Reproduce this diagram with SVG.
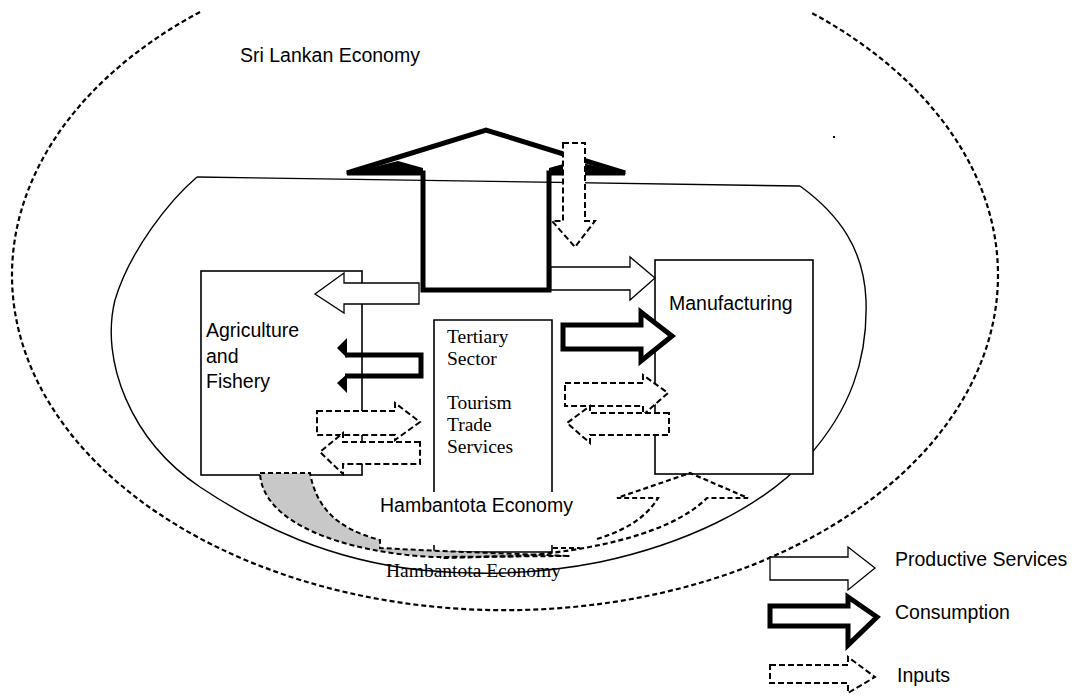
<svg xmlns="http://www.w3.org/2000/svg" width="1075" height="696" viewBox="0 0 1075 696">
<style>
.sans{font-family:"Liberation Sans",Arial,sans-serif;font-size:19.5px;fill:#000}
.serif{font-family:"Liberation Serif","Times New Roman",serif;font-size:19.5px;fill:#000}
.thin{fill:none;stroke:#000;stroke-width:1.4}
.box{fill:#fff;stroke:#000;stroke-width:1.6}
.prod{fill:#fff;stroke:#000;stroke-width:1.3;stroke-linejoin:miter}
.cons{fill:#fff;stroke:#000;stroke-width:5;stroke-linejoin:miter}
.inp{fill:#fff;stroke:#000;stroke-width:2;stroke-dasharray:6 3}
.dl{fill:none;stroke:#000;stroke-width:2.2;stroke-dasharray:5 3}
</style>
<rect width="1075" height="696" fill="#fff"/>
<g id="sri-lankan-economy">
<path class="dl" d="M200,12 A493,335 0 1 0 810,12"/>
<text class="sans" x="240" y="62">Sri Lankan Economy</text>
</g>
<g id="hambantota-economy">
<path class="thin" d="M197,177 C170,200 130,250 115,300 C100,360 130,440 200,487 C260,527 330,560 420,570 C480,576 540,574 600,562 C680,545 760,510 808,457 C850,410 868,360 866,300 C864,250 840,215 800,186"/>
<path class="thin" d="M197,177 L800,186"/>
<rect x="833" y="136" width="2" height="2" fill="#000"/>
<text class="serif" x="386" y="577">Hambantota Economy</text>
</g>
<g id="agriculture">
<rect class="box" x="201" y="271" width="161" height="204"/>
<text class="sans" x="206" y="337">Agriculture</text>
<text class="sans" x="206" y="363">and</text>
<text class="sans" x="206" y="388">Fishery</text>
</g>
<g id="tertiary">
<path d="M434,492 V320 H552 V492" fill="#fff" stroke="#000" stroke-width="1.6"/>
<path d="M434,545 V552 H552 V545" fill="none" stroke="#000" stroke-width="1.6"/>
<text class="serif" x="447" y="343">Tertiary</text>
<text class="serif" x="447" y="365">Sector</text>
<text class="serif" x="447" y="409">Tourism</text>
<text class="serif" x="447" y="431">Trade</text>
<text class="serif" x="447" y="453">Services</text>
<text class="sans" x="380" y="512">Hambantota Economy</text>
</g>
<g id="manufacturing">
<rect class="box" x="655" y="260" width="158" height="214"/>
<text class="sans" x="669" y="310">Manufacturing</text>
</g>
<g id="connectors">
<polygon points="347,173 486,130 625,173 549,173 549,290 423,290 423,173" fill="none" stroke="#000" stroke-width="5" stroke-linejoin="miter"/>
<polygon points="345,174 398,161 423,168 423,175" fill="#000"/>
<polygon points="627,174 574,161 549,168 549,175" fill="#000"/>
<polygon class="inp" points="563,143 585,143 585,221 595,221 575,247 552,221 563,221"/>
<polygon class="prod" points="419,283 344,283 344,273 315,294 344,313 344,304 419,304"/>
<polygon class="prod" points="551,267 630,267 630,257 655,278 630,300 630,290 551,290"/>
<path d="M345,355 H421 V376 H345" fill="none" stroke="#000" stroke-width="5"/>
<polygon points="337,348 347,338 347,358" fill="#000"/>
<polygon points="337,383 347,374 347,393" fill="#000"/>
<polygon class="cons" points="563,325 641,325 641,312 672,336 641,361 641,349 563,349"/>
<polygon class="inp" points="317,411 395,411 395,403 420,422 395,440 395,435 317,435"/>
<polygon class="inp" points="420,442 343,442 343,433 320,452 343,474 343,464 420,464"/>
<polygon class="inp" points="565,383 643,383 643,375 668,393 643,415 643,406 565,406"/>
<polygon class="inp" points="669,413 590,413 590,406 567,423 590,443 590,435 669,435"/>
<path d="M260,473 L310,473 C316,505 334,528 380,540 L380,548 L440,551 L570,556 L433,557 C340,552 262,522 260,473 Z" fill="#c8c8c8" stroke="#000" stroke-width="2" stroke-dasharray="5 3"/>
<path class="dl" d="M597,539 C620,532 645,520 658,498 H617 L690,473 L748,498 H707 C680,525 620,548 520,556 L440,558"/>
<path class="dl" d="M553,548 H580"/>
</g>
<g id="legend">
<polygon class="prod" points="770,557 848,557 848,547 875,568 848,590 848,580 770,580"/>
<text class="sans" x="895" y="566">Productive Services</text>
<polygon class="cons" points="770,606 848,606 848,597 877,617 848,645 848,626 770,626"/>
<text class="sans" x="895" y="619">Consumption</text>
<polygon class="inp" points="770,665 848,665 848,657 875,677 848,693 848,683 770,683"/>
<text class="sans" x="897" y="682">Inputs</text>
</g>
</svg>
